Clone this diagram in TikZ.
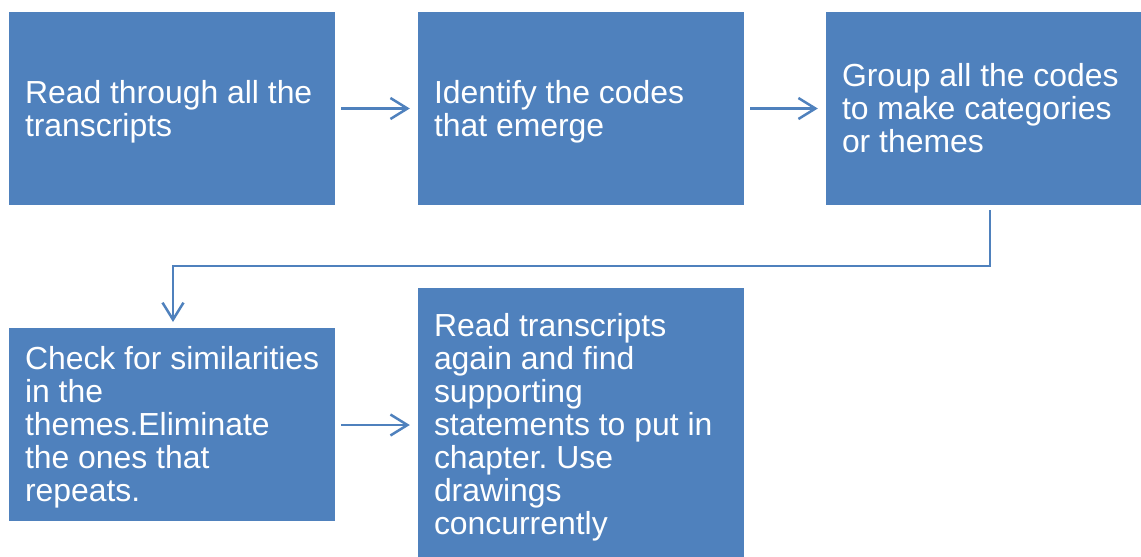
\documentclass[tikz,border=0pt]{standalone}
\usepackage{fontspec}
\setmainfont{Liberation Sans}
\usetikzlibrary{arrows.meta}
\definecolor{stepblue}{HTML}{4F81BD}
\tikzset{
  stepbox/.style={rectangle, fill=stepblue, draw=none,
    minimum width=326pt, minimum height=193pt, inner sep=0pt},
  steptext/.style={anchor=west, text=white, inner sep=0pt, align=left,
    font=\fontsize{31.9}{33}\selectfont\frenchspacing},
  flow/.style={draw=stepblue, line width=2.5pt,
    -{Straight Barb[length=17pt,width=21pt,line width=2.5pt]}}
}
\begin{document}
\begin{tikzpicture}[x=1pt,y=-1pt]
  \useasboundingbox (0,0) rectangle (1141,557);
  \clip (0,0) rectangle (1141,557);

  % first row
  \node[stepbox] (b1) at (172,108.5) {};
  \node[stepbox] (b2) at (581,108.5) {};
  \node[stepbox] (b3) at (989,108.5) {};
  % second row
  \node[stepbox] (b4) at (172,424.5) {};
  \node[stepbox, minimum height=270pt] (b5) at (581,423) {};

  % labels
  \node[steptext] (t1) at ([xshift=16pt,yshift=-3pt]b1.west) {Read through all the\\transcripts};
  \node[steptext] (t2) at ([xshift=16pt,yshift=-3pt]b2.west) {Identify the codes\\that emerge};
  \node[steptext] (t3) at ([xshift=16pt,yshift=0pt]b3.west) {Group all the codes\\to make categories\\or themes};
  \node[steptext] (t4) at ([xshift=16pt,yshift=-2.5pt]b4.west) {Check for similarities\\in the\\themes.Eliminate\\the ones that\\repeats.};
  \node[steptext] (t5) at ([xshift=16pt,yshift=-4pt]b5.west) {Read transcripts\\again and find\\supporting\\statements to put in\\chapter. Use\\drawings\\concurrently};

  % connectors
  \coordinate (e1) at (990,210);
  \coordinate (e2) at (173,322);
  \draw[flow] ([xshift=6pt]b1.east) -- ([xshift=-8pt]b2.west);
  \draw[flow] ([xshift=6pt]b2.east) -- ([xshift=-8pt]b3.west);
  \draw[flow] (e1) -- (990,266) -| (e2);
  \draw[flow] ([xshift=6pt]b4.east |- 425,425) -- ([xshift=-8pt]b5.west |- 425,425);
\end{tikzpicture}
\end{document}
